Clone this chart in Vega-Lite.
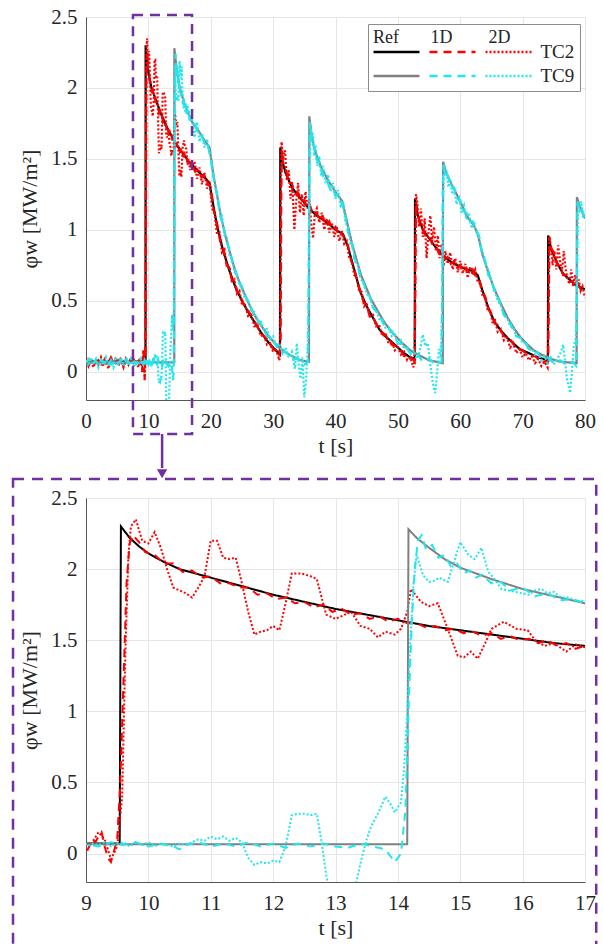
{
"$schema":"https://vega.github.io/schema/vega-lite/v6.json",
"padding":{"left":11,"top":5,"right":5,"bottom":0},
"background":"white",
"config":{"font":"Liberation Serif","view":{"stroke":"#d6d6d6","strokeWidth":1},
"style":{"guide-label":{"font":"Liberation Serif"},"guide-title":{"font":"Liberation Serif"}},
"axis":{"labelFont":"Liberation Serif","titleFont":"Liberation Serif"},
"legend":{"labelFont":"Liberation Serif","titleFont":"Liberation Serif"}},
"spacing":98,
"bounds":"flush",
"resolve":{"scale":{"x":"independent","y":"independent","color":"independent","strokeDash":"independent"},"legend":{"color":"independent","strokeDash":"independent"}},
"datasets":{"d":[
{"s":"R2","t":0,"v":0.07},{"s":"R2","t":9.54,"v":0.07},{"s":"R2","t":9.56,"v":2.3},{"s":"R2","t":9.7,"v":2.22},{"s":"R2","t":9.85,"v":2.16},{"s":"R2","t":10,"v":2.11},{"s":"R2","t":10.25,"v":2.05},{"s":"R2","t":10.5,"v":2.0},{"s":"R2","t":10.75,"v":1.97},{"s":"R2","t":11,"v":1.94},{"s":"R2","t":11.5,"v":1.88},{"s":"R2","t":12,"v":1.82},{"s":"R2","t":12.5,"v":1.77},{"s":"R2","t":13,"v":1.72},{"s":"R2","t":13.5,"v":1.68},{"s":"R2","t":14,"v":1.64},{"s":"R2","t":14.5,"v":1.6},{"s":"R2","t":15,"v":1.57},{"s":"R2","t":15.5,"v":1.54},{"s":"R2","t":16,"v":1.51},{"s":"R2","t":16.5,"v":1.48},{"s":"R2","t":17,"v":1.46},{"s":"R2","t":18,"v":1.41},{"s":"R2","t":19,"v":1.37},{"s":"R2","t":19.8,"v":1.33},{"s":"R2","t":20.3,"v":1.2},{"s":"R2","t":21,"v":1.03},{"s":"R2","t":22,"v":0.85},{"s":"R2","t":23,"v":0.71},{"s":"R2","t":24,"v":0.59},{"s":"R2","t":25,"v":0.5},{"s":"R2","t":26,"v":0.42},{"s":"R2","t":27,"v":0.35},{"s":"R2","t":28,"v":0.28},{"s":"R2","t":29,"v":0.22},{"s":"R2","t":30,"v":0.17},{"s":"R2","t":31.1,"v":0.12},{"s":"R2","t":31.15,"v":1.58},{"s":"R2","t":31.5,"v":1.48},{"s":"R2","t":32,"v":1.4},{"s":"R2","t":33,"v":1.3},{"s":"R2","t":34,"v":1.24},{"s":"R2","t":35,"v":1.19},{"s":"R2","t":36,"v":1.14},{"s":"R2","t":37,"v":1.1},{"s":"R2","t":38,"v":1.07},{"s":"R2","t":39,"v":1.04},{"s":"R2","t":40,"v":1.0},{"s":"R2","t":41.2,"v":0.97},{"s":"R2","t":42,"v":0.88},{"s":"R2","t":43,"v":0.72},{"s":"R2","t":44,"v":0.56},{"s":"R2","t":45,"v":0.46},{"s":"R2","t":46,"v":0.38},{"s":"R2","t":47,"v":0.3},{"s":"R2","t":48,"v":0.25},{"s":"R2","t":49,"v":0.21},{"s":"R2","t":50,"v":0.17},{"s":"R2","t":51,"v":0.13},{"s":"R2","t":52,"v":0.1},{"s":"R2","t":52.7,"v":0.09},{"s":"R2","t":52.75,"v":1.22},{"s":"R2","t":53.2,"v":1.1},{"s":"R2","t":54,"v":1.0},{"s":"R2","t":55,"v":0.94},{"s":"R2","t":56,"v":0.88},{"s":"R2","t":57,"v":0.83},{"s":"R2","t":58,"v":0.79},{"s":"R2","t":59,"v":0.76},{"s":"R2","t":60,"v":0.74},{"s":"R2","t":61,"v":0.72},{"s":"R2","t":62,"v":0.71},{"s":"R2","t":62.8,"v":0.68},{"s":"R2","t":63.5,"v":0.58},{"s":"R2","t":64.5,"v":0.45},{"s":"R2","t":65.5,"v":0.35},{"s":"R2","t":66.5,"v":0.29},{"s":"R2","t":67.5,"v":0.24},{"s":"R2","t":68.5,"v":0.2},{"s":"R2","t":69.5,"v":0.16},{"s":"R2","t":70.5,"v":0.14},{"s":"R2","t":71.5,"v":0.12},{"s":"R2","t":72.5,"v":0.1},{"s":"R2","t":74.05,"v":0.08},{"s":"R2","t":74.1,"v":0.96},{"s":"R2","t":74.6,"v":0.86},{"s":"R2","t":75.6,"v":0.76},{"s":"R2","t":76.5,"v":0.69},{"s":"R2","t":77.5,"v":0.65},{"s":"R2","t":78.5,"v":0.61},{"s":"R2","t":80,"v":0.58},
{"s":"A2","t":0,"v":0.08},{"s":"A2","t":0.5,"v":0.05},{"s":"A2","t":1,"v":0.09},{"s":"A2","t":1.5,"v":0.06},{"s":"A2","t":2,"v":0.08},{"s":"A2","t":2.5,"v":0.04},{"s":"A2","t":3,"v":0.09},{"s":"A2","t":3.5,"v":0.06},{"s":"A2","t":4,"v":0.1},{"s":"A2","t":4.5,"v":0.05},{"s":"A2","t":5,"v":0.07},{"s":"A2","t":5.5,"v":0.09},{"s":"A2","t":6,"v":0.04},{"s":"A2","t":6.5,"v":0.08},{"s":"A2","t":7,"v":0.06},{"s":"A2","t":7.5,"v":0.1},{"s":"A2","t":8,"v":0.05},{"s":"A2","t":8.5,"v":0.08},{"s":"A2","t":9,"v":0.0},{"s":"A2","t":9.05,"v":0.05},{"s":"A2","t":9.1,"v":0.1},{"s":"A2","t":9.15,"v":0.08},{"s":"A2","t":9.2,"v":0.12},{"s":"A2","t":9.25,"v":0.15},{"s":"A2","t":9.3,"v":0.05},{"s":"A2","t":9.35,"v":-0.03},{"s":"A2","t":9.4,"v":-0.06},{"s":"A2","t":9.45,"v":0.02},{"s":"A2","t":9.5,"v":0.1},{"s":"A2","t":9.55,"v":0.5},{"s":"A2","t":9.6,"v":1.2},{"s":"A2","t":9.65,"v":1.9},{"s":"A2","t":9.7,"v":2.18},{"s":"A2","t":9.75,"v":2.24},{"s":"A2","t":9.85,"v":2.19},{"s":"A2","t":9.95,"v":2.12},{"s":"A2","t":10.1,"v":2.1},{"s":"A2","t":10.25,"v":2.04},{"s":"A2","t":10.4,"v":2.04},{"s":"A2","t":10.55,"v":1.98},{"s":"A2","t":10.7,"v":1.99},{"s":"A2","t":10.85,"v":1.94},{"s":"A2","t":11,"v":1.95},{"s":"A2","t":11.15,"v":1.9},{"s":"A2","t":11.3,"v":1.9},{"s":"A2","t":11.45,"v":1.87},{"s":"A2","t":11.6,"v":1.87},{"s":"A2","t":11.75,"v":1.82},{"s":"A2","t":11.9,"v":1.83},{"s":"A2","t":12.05,"v":1.79},{"s":"A2","t":12.2,"v":1.8},{"s":"A2","t":12.35,"v":1.76},{"s":"A2","t":12.5,"v":1.77},{"s":"A2","t":12.65,"v":1.73},{"s":"A2","t":12.8,"v":1.75},{"s":"A2","t":12.95,"v":1.7},{"s":"A2","t":13.1,"v":1.72},{"s":"A2","t":13.25,"v":1.68},{"s":"A2","t":13.4,"v":1.69},{"s":"A2","t":13.55,"v":1.65},{"s":"A2","t":13.7,"v":1.67},{"s":"A2","t":13.85,"v":1.63},{"s":"A2","t":14,"v":1.65},{"s":"A2","t":14.15,"v":1.62},{"s":"A2","t":14.3,"v":1.62},{"s":"A2","t":14.45,"v":1.59},{"s":"A2","t":14.6,"v":1.6},{"s":"A2","t":14.75,"v":1.57},{"s":"A2","t":14.9,"v":1.58},{"s":"A2","t":15.05,"v":1.55},{"s":"A2","t":15.2,"v":1.56},{"s":"A2","t":15.35,"v":1.53},{"s":"A2","t":15.5,"v":1.55},{"s":"A2","t":15.65,"v":1.51},{"s":"A2","t":15.8,"v":1.53},{"s":"A2","t":15.95,"v":1.5},{"s":"A2","t":16.1,"v":1.51},{"s":"A2","t":16.25,"v":1.48},{"s":"A2","t":16.4,"v":1.5},{"s":"A2","t":16.55,"v":1.46},{"s":"A2","t":16.7,"v":1.48},{"s":"A2","t":16.85,"v":1.44},{"s":"A2","t":17,"v":1.46},{"s":"A2","t":17.5,"v":1.41},{"s":"A2","t":18,"v":1.43},{"s":"A2","t":18.5,"v":1.37},{"s":"A2","t":19,"v":1.39},{"s":"A2","t":19.5,"v":1.33},{"s":"A2","t":20,"v":1.3},{"s":"A2","t":20.5,"v":1.13},{"s":"A2","t":21,"v":1.05},{"s":"A2","t":21.5,"v":0.92},{"s":"A2","t":22,"v":0.87},{"s":"A2","t":22.5,"v":0.76},{"s":"A2","t":23,"v":0.73},{"s":"A2","t":23.5,"v":0.62},{"s":"A2","t":24,"v":0.61},{"s":"A2","t":24.5,"v":0.52},{"s":"A2","t":25,"v":0.51},{"s":"A2","t":25.5,"v":0.44},{"s":"A2","t":26,"v":0.43},{"s":"A2","t":27,"v":0.36},{"s":"A2","t":28,"v":0.27},{"s":"A2","t":29,"v":0.23},{"s":"A2","t":30,"v":0.16},{"s":"A2","t":31,"v":0.12},{"s":"A2","t":31.2,"v":0.2},{"s":"A2","t":31.3,"v":1.2},{"s":"A2","t":31.4,"v":1.56},{"s":"A2","t":31.6,"v":1.47},{"s":"A2","t":32,"v":1.43},{"s":"A2","t":32.5,"v":1.33},{"s":"A2","t":33,"v":1.33},{"s":"A2","t":33.5,"v":1.25},{"s":"A2","t":34,"v":1.26},{"s":"A2","t":34.5,"v":1.2},{"s":"A2","t":35,"v":1.21},{"s":"A2","t":35.5,"v":1.14},{"s":"A2","t":36,"v":1.16},{"s":"A2","t":36.5,"v":1.1},{"s":"A2","t":37,"v":1.12},{"s":"A2","t":37.5,"v":1.06},{"s":"A2","t":38,"v":1.09},{"s":"A2","t":38.5,"v":1.03},{"s":"A2","t":39,"v":1.06},{"s":"A2","t":39.5,"v":1.0},{"s":"A2","t":40,"v":1.02},{"s":"A2","t":40.5,"v":0.96},{"s":"A2","t":41,"v":0.98},{"s":"A2","t":41.5,"v":0.93},{"s":"A2","t":42,"v":0.89},{"s":"A2","t":42.5,"v":0.78},{"s":"A2","t":43,"v":0.73},{"s":"A2","t":43.5,"v":0.62},{"s":"A2","t":44,"v":0.57},{"s":"A2","t":44.5,"v":0.49},{"s":"A2","t":45,"v":0.47},{"s":"A2","t":45.5,"v":0.39},{"s":"A2","t":46,"v":0.39},{"s":"A2","t":47,"v":0.29},{"s":"A2","t":48,"v":0.26},{"s":"A2","t":49,"v":0.19},{"s":"A2","t":50,"v":0.18},{"s":"A2","t":51,"v":0.11},{"s":"A2","t":52,"v":0.11},{"s":"A2","t":52.7,"v":0.07},{"s":"A2","t":52.8,"v":0.6},{"s":"A2","t":52.9,"v":1.2},{"s":"A2","t":53.2,"v":1.12},{"s":"A2","t":53.6,"v":1.02},{"s":"A2","t":54,"v":1.01},{"s":"A2","t":54.5,"v":0.95},{"s":"A2","t":55,"v":0.96},{"s":"A2","t":55.5,"v":0.9},{"s":"A2","t":56,"v":0.9},{"s":"A2","t":56.5,"v":0.84},{"s":"A2","t":57,"v":0.85},{"s":"A2","t":57.5,"v":0.79},{"s":"A2","t":58,"v":0.81},{"s":"A2","t":58.5,"v":0.76},{"s":"A2","t":59,"v":0.78},{"s":"A2","t":59.5,"v":0.73},{"s":"A2","t":60,"v":0.75},{"s":"A2","t":60.5,"v":0.7},{"s":"A2","t":61,"v":0.73},{"s":"A2","t":61.5,"v":0.69},{"s":"A2","t":62,"v":0.72},{"s":"A2","t":62.5,"v":0.67},{"s":"A2","t":63,"v":0.66},{"s":"A2","t":63.5,"v":0.57},{"s":"A2","t":64,"v":0.53},{"s":"A2","t":64.5,"v":0.44},{"s":"A2","t":65,"v":0.41},{"s":"A2","t":65.5,"v":0.34},{"s":"A2","t":66,"v":0.33},{"s":"A2","t":67,"v":0.25},{"s":"A2","t":68,"v":0.23},{"s":"A2","t":69,"v":0.16},{"s":"A2","t":70,"v":0.15},{"s":"A2","t":71,"v":0.11},{"s":"A2","t":72,"v":0.11},{"s":"A2","t":73,"v":0.07},{"s":"A2","t":74.1,"v":0.07},{"s":"A2","t":74.2,"v":0.5},{"s":"A2","t":74.3,"v":0.95},{"s":"A2","t":74.6,"v":0.87},{"s":"A2","t":75,"v":0.84},{"s":"A2","t":75.5,"v":0.76},{"s":"A2","t":76,"v":0.74},{"s":"A2","t":76.5,"v":0.68},{"s":"A2","t":77,"v":0.68},{"s":"A2","t":77.5,"v":0.63},{"s":"A2","t":78,"v":0.64},{"s":"A2","t":78.5,"v":0.59},{"s":"A2","t":79,"v":0.61},{"s":"A2","t":79.5,"v":0.56},{"s":"A2","t":80,"v":0.58},
{"s":"B2","t":0,"v":0.1},{"s":"B2","t":0.4,"v":0.04},{"s":"B2","t":0.8,"v":0.08},{"s":"B2","t":1.2,"v":0.03},{"s":"B2","t":1.6,"v":0.09},{"s":"B2","t":2,"v":0.05},{"s":"B2","t":2.4,"v":0.1},{"s":"B2","t":2.8,"v":0.04},{"s":"B2","t":3.2,"v":0.07},{"s":"B2","t":3.6,"v":0.02},{"s":"B2","t":4,"v":0.09},{"s":"B2","t":4.4,"v":0.05},{"s":"B2","t":4.8,"v":0.1},{"s":"B2","t":5.2,"v":0.04},{"s":"B2","t":5.6,"v":0.08},{"s":"B2","t":6,"v":0.03},{"s":"B2","t":6.4,"v":0.09},{"s":"B2","t":6.8,"v":0.05},{"s":"B2","t":7.2,"v":0.1},{"s":"B2","t":7.6,"v":0.04},{"s":"B2","t":8,"v":0.08},{"s":"B2","t":8.4,"v":0.03},{"s":"B2","t":8.8,"v":0.09},{"s":"B2","t":9,"v":0.02},{"s":"B2","t":9.1,"v":0.08},{"s":"B2","t":9.2,"v":0.15},{"s":"B2","t":9.3,"v":0.1},{"s":"B2","t":9.4,"v":-0.04},{"s":"B2","t":9.5,"v":0.05},{"s":"B2","t":9.58,"v":0.4},{"s":"B2","t":9.63,"v":1.4},{"s":"B2","t":9.68,"v":2.1},{"s":"B2","t":9.72,"v":2.3},{"s":"B2","t":9.8,"v":2.35},{"s":"B2","t":9.9,"v":2.2},{"s":"B2","t":10.0,"v":2.18},{"s":"B2","t":10.1,"v":2.26},{"s":"B2","t":10.2,"v":2.15},{"s":"B2","t":10.3,"v":2.0},{"s":"B2","t":10.4,"v":1.87},{"s":"B2","t":10.5,"v":1.85},{"s":"B2","t":10.6,"v":1.83},{"s":"B2","t":10.7,"v":1.8},{"s":"B2","t":10.8,"v":1.87},{"s":"B2","t":10.9,"v":1.95},{"s":"B2","t":11.0,"v":2.2},{"s":"B2","t":11.1,"v":2.2},{"s":"B2","t":11.2,"v":2.08},{"s":"B2","t":11.3,"v":2.07},{"s":"B2","t":11.4,"v":2.08},{"s":"B2","t":11.5,"v":1.9},{"s":"B2","t":11.6,"v":1.7},{"s":"B2","t":11.7,"v":1.54},{"s":"B2","t":11.8,"v":1.56},{"s":"B2","t":11.9,"v":1.57},{"s":"B2","t":12.0,"v":1.6},{"s":"B2","t":12.1,"v":1.57},{"s":"B2","t":12.2,"v":1.76},{"s":"B2","t":12.3,"v":1.97},{"s":"B2","t":12.45,"v":1.97},{"s":"B2","t":12.6,"v":1.95},{"s":"B2","t":12.7,"v":1.93},{"s":"B2","t":12.85,"v":1.68},{"s":"B2","t":13.0,"v":1.65},{"s":"B2","t":13.1,"v":1.67},{"s":"B2","t":13.25,"v":1.7},{"s":"B2","t":13.4,"v":1.6},{"s":"B2","t":13.55,"v":1.58},{"s":"B2","t":13.68,"v":1.52},{"s":"B2","t":13.8,"v":1.56},{"s":"B2","t":13.95,"v":1.54},{"s":"B2","t":14.05,"v":1.58},{"s":"B2","t":14.15,"v":1.7},{"s":"B2","t":14.21,"v":1.86},{"s":"B2","t":14.37,"v":1.77},{"s":"B2","t":14.5,"v":1.74},{"s":"B2","t":14.64,"v":1.76},{"s":"B2","t":14.8,"v":1.58},{"s":"B2","t":14.96,"v":1.39},{"s":"B2","t":15.06,"v":1.38},{"s":"B2","t":15.17,"v":1.42},{"s":"B2","t":15.28,"v":1.37},{"s":"B2","t":15.4,"v":1.48},{"s":"B2","t":15.5,"v":1.58},{"s":"B2","t":15.7,"v":1.63},{"s":"B2","t":15.9,"v":1.58},{"s":"B2","t":16.08,"v":1.57},{"s":"B2","t":16.2,"v":1.5},{"s":"B2","t":16.35,"v":1.46},{"s":"B2","t":16.5,"v":1.48},{"s":"B2","t":16.6,"v":1.45},{"s":"B2","t":16.7,"v":1.42},{"s":"B2","t":16.85,"v":1.47},{"s":"B2","t":17.0,"v":1.45},{"s":"B2","t":17.4,"v":1.48},{"s":"B2","t":17.8,"v":1.36},{"s":"B2","t":18.2,"v":1.44},{"s":"B2","t":18.6,"v":1.32},{"s":"B2","t":19,"v":1.4},{"s":"B2","t":19.4,"v":1.29},{"s":"B2","t":19.8,"v":1.34},{"s":"B2","t":20.2,"v":1.15},{"s":"B2","t":20.6,"v":1.12},{"s":"B2","t":21,"v":0.97},{"s":"B2","t":21.4,"v":0.98},{"s":"B2","t":21.8,"v":0.84},{"s":"B2","t":22.2,"v":0.86},{"s":"B2","t":22.6,"v":0.73},{"s":"B2","t":23,"v":0.74},{"s":"B2","t":23.4,"v":0.63},{"s":"B2","t":23.8,"v":0.65},{"s":"B2","t":24.2,"v":0.55},{"s":"B2","t":24.6,"v":0.57},{"s":"B2","t":25,"v":0.47},{"s":"B2","t":25.5,"v":0.47},{"s":"B2","t":26,"v":0.39},{"s":"B2","t":26.5,"v":0.4},{"s":"B2","t":27,"v":0.32},{"s":"B2","t":27.5,"v":0.33},{"s":"B2","t":28,"v":0.25},{"s":"B2","t":28.5,"v":0.26},{"s":"B2","t":29,"v":0.19},{"s":"B2","t":29.5,"v":0.2},{"s":"B2","t":30,"v":0.14},{"s":"B2","t":30.5,"v":0.15},{"s":"B2","t":31,"v":0.08},{"s":"B2","t":31.15,"v":0.3},{"s":"B2","t":31.25,"v":1.3},{"s":"B2","t":31.35,"v":1.62},{"s":"B2","t":31.6,"v":1.5},{"s":"B2","t":31.9,"v":1.56},{"s":"B2","t":32.2,"v":1.35},{"s":"B2","t":32.5,"v":1.42},{"s":"B2","t":32.8,"v":1.22},{"s":"B2","t":33.1,"v":1.3},{"s":"B2","t":33.4,"v":1.0},{"s":"B2","t":33.7,"v":1.2},{"s":"B2","t":34,"v":1.33},{"s":"B2","t":34.3,"v":1.12},{"s":"B2","t":34.6,"v":1.25},{"s":"B2","t":34.9,"v":1.1},{"s":"B2","t":35.2,"v":1.27},{"s":"B2","t":35.5,"v":1.15},{"s":"B2","t":35.8,"v":1.22},{"s":"B2","t":36.1,"v":1.05},{"s":"B2","t":36.4,"v":0.94},{"s":"B2","t":36.7,"v":1.12},{"s":"B2","t":37,"v":1.15},{"s":"B2","t":37.4,"v":1.05},{"s":"B2","t":37.8,"v":1.12},{"s":"B2","t":38.2,"v":1.0},{"s":"B2","t":38.6,"v":1.08},{"s":"B2","t":39,"v":0.98},{"s":"B2","t":39.4,"v":1.05},{"s":"B2","t":39.8,"v":0.95},{"s":"B2","t":40.2,"v":1.02},{"s":"B2","t":40.6,"v":0.92},{"s":"B2","t":41,"v":0.99},{"s":"B2","t":41.4,"v":0.9},{"s":"B2","t":41.8,"v":0.92},{"s":"B2","t":42.2,"v":0.8},{"s":"B2","t":42.6,"v":0.78},{"s":"B2","t":43,"v":0.68},{"s":"B2","t":43.4,"v":0.67},{"s":"B2","t":43.8,"v":0.56},{"s":"B2","t":44.2,"v":0.56},{"s":"B2","t":44.6,"v":0.46},{"s":"B2","t":45,"v":0.48},{"s":"B2","t":45.5,"v":0.39},{"s":"B2","t":46,"v":0.4},{"s":"B2","t":46.5,"v":0.32},{"s":"B2","t":47,"v":0.33},{"s":"B2","t":47.5,"v":0.25},{"s":"B2","t":48,"v":0.27},{"s":"B2","t":48.5,"v":0.2},{"s":"B2","t":49,"v":0.22},{"s":"B2","t":49.5,"v":0.15},{"s":"B2","t":50,"v":0.17},{"s":"B2","t":50.5,"v":0.12},{"s":"B2","t":51,"v":0.14},{"s":"B2","t":51.5,"v":0.08},{"s":"B2","t":52,"v":0.1},{"s":"B2","t":52.5,"v":0.03},{"s":"B2","t":52.7,"v":0.08},{"s":"B2","t":52.8,"v":0.8},{"s":"B2","t":52.9,"v":1.25},{"s":"B2","t":53.1,"v":1.2},{"s":"B2","t":53.4,"v":1.02},{"s":"B2","t":53.7,"v":1.15},{"s":"B2","t":54,"v":0.95},{"s":"B2","t":54.3,"v":1.08},{"s":"B2","t":54.6,"v":0.8},{"s":"B2","t":54.9,"v":0.98},{"s":"B2","t":55.2,"v":1.1},{"s":"B2","t":55.5,"v":0.92},{"s":"B2","t":55.8,"v":1.02},{"s":"B2","t":56.1,"v":0.85},{"s":"B2","t":56.4,"v":0.96},{"s":"B2","t":56.7,"v":0.8},{"s":"B2","t":57,"v":0.9},{"s":"B2","t":57.3,"v":0.74},{"s":"B2","t":57.6,"v":0.85},{"s":"B2","t":58,"v":0.76},{"s":"B2","t":58.4,"v":0.84},{"s":"B2","t":58.8,"v":0.72},{"s":"B2","t":59.2,"v":0.8},{"s":"B2","t":59.6,"v":0.7},{"s":"B2","t":60,"v":0.78},{"s":"B2","t":60.4,"v":0.69},{"s":"B2","t":60.8,"v":0.76},{"s":"B2","t":61.2,"v":0.66},{"s":"B2","t":61.6,"v":0.74},{"s":"B2","t":62,"v":0.68},{"s":"B2","t":62.4,"v":0.72},{"s":"B2","t":62.8,"v":0.63},{"s":"B2","t":63.2,"v":0.62},{"s":"B2","t":63.6,"v":0.53},{"s":"B2","t":64,"v":0.52},{"s":"B2","t":64.4,"v":0.43},{"s":"B2","t":64.8,"v":0.43},{"s":"B2","t":65.2,"v":0.34},{"s":"B2","t":65.6,"v":0.36},{"s":"B2","t":66,"v":0.28},{"s":"B2","t":66.5,"v":0.3},{"s":"B2","t":67,"v":0.22},{"s":"B2","t":67.5,"v":0.24},{"s":"B2","t":68,"v":0.17},{"s":"B2","t":68.5,"v":0.2},{"s":"B2","t":69,"v":0.13},{"s":"B2","t":69.5,"v":0.16},{"s":"B2","t":70,"v":0.1},{"s":"B2","t":70.5,"v":0.13},{"s":"B2","t":71,"v":0.08},{"s":"B2","t":71.5,"v":0.11},{"s":"B2","t":72,"v":0.06},{"s":"B2","t":72.5,"v":0.09},{"s":"B2","t":73,"v":0.04},{"s":"B2","t":73.5,"v":0.07},{"s":"B2","t":74,"v":0.03},{"s":"B2","t":74.15,"v":0.4},{"s":"B2","t":74.25,"v":0.95},{"s":"B2","t":74.5,"v":0.9},{"s":"B2","t":74.8,"v":0.75},{"s":"B2","t":75.1,"v":0.85},{"s":"B2","t":75.4,"v":0.72},{"s":"B2","t":75.7,"v":0.89},{"s":"B2","t":76,"v":0.78},{"s":"B2","t":76.3,"v":0.7},{"s":"B2","t":76.6,"v":0.85},{"s":"B2","t":76.9,"v":0.72},{"s":"B2","t":77.2,"v":0.65},{"s":"B2","t":77.5,"v":0.62},{"s":"B2","t":77.8,"v":0.72},{"s":"B2","t":78.1,"v":0.6},{"s":"B2","t":78.4,"v":0.68},{"s":"B2","t":78.7,"v":0.6},{"s":"B2","t":79,"v":0.65},{"s":"B2","t":79.3,"v":0.57},{"s":"B2","t":79.6,"v":0.6},{"s":"B2","t":80,"v":0.52},
{"s":"R9","t":0,"v":0.065},{"s":"R9","t":14.15,"v":0.065},{"s":"R9","t":14.17,"v":2.28},{"s":"R9","t":14.3,"v":2.22},{"s":"R9","t":14.5,"v":2.15},{"s":"R9","t":14.75,"v":2.07},{"s":"R9","t":15,"v":2.01},{"s":"R9","t":15.25,"v":1.97},{"s":"R9","t":15.5,"v":1.93},{"s":"R9","t":16,"v":1.86},{"s":"R9","t":16.5,"v":1.81},{"s":"R9","t":17,"v":1.76},{"s":"R9","t":18,"v":1.7},{"s":"R9","t":19,"v":1.63},{"s":"R9","t":19.8,"v":1.58},{"s":"R9","t":20.5,"v":1.37},{"s":"R9","t":21.6,"v":1.1},{"s":"R9","t":22.4,"v":0.95},{"s":"R9","t":23.2,"v":0.82},{"s":"R9","t":24,"v":0.7},{"s":"R9","t":24.8,"v":0.61},{"s":"R9","t":26,"v":0.49},{"s":"R9","t":27,"v":0.4},{"s":"R9","t":28,"v":0.33},{"s":"R9","t":29.1,"v":0.26},{"s":"R9","t":30.5,"v":0.19},{"s":"R9","t":31.8,"v":0.14},{"s":"R9","t":33,"v":0.11},{"s":"R9","t":34.4,"v":0.08},{"s":"R9","t":35.75,"v":0.07},{"s":"R9","t":35.8,"v":1.8},{"s":"R9","t":36.2,"v":1.66},{"s":"R9","t":36.6,"v":1.57},{"s":"R9","t":37.7,"v":1.44},{"s":"R9","t":38.8,"v":1.35},{"s":"R9","t":39.8,"v":1.28},{"s":"R9","t":41.1,"v":1.2},{"s":"R9","t":42.5,"v":0.93},{"s":"R9","t":43.3,"v":0.8},{"s":"R9","t":44.1,"v":0.68},{"s":"R9","t":45.7,"v":0.51},{"s":"R9","t":47,"v":0.41},{"s":"R9","t":47.8,"v":0.35},{"s":"R9","t":49,"v":0.28},{"s":"R9","t":50.5,"v":0.21},{"s":"R9","t":52,"v":0.15},{"s":"R9","t":53.2,"v":0.12},{"s":"R9","t":55,"v":0.08},{"s":"R9","t":57.2,"v":0.06},{"s":"R9","t":57.25,"v":1.48},{"s":"R9","t":57.7,"v":1.41},{"s":"R9","t":58.5,"v":1.33},{"s":"R9","t":59.2,"v":1.27},{"s":"R9","t":60,"v":1.2},{"s":"R9","t":61,"v":1.1},{"s":"R9","t":62.2,"v":1.03},{"s":"R9","t":62.8,"v":0.97},{"s":"R9","t":63.6,"v":0.82},{"s":"R9","t":64.5,"v":0.7},{"s":"R9","t":65.4,"v":0.59},{"s":"R9","t":66.5,"v":0.48},{"s":"R9","t":67.6,"v":0.38},{"s":"R9","t":68.7,"v":0.3},{"s":"R9","t":69.7,"v":0.24},{"s":"R9","t":70.8,"v":0.19},{"s":"R9","t":71.8,"v":0.15},{"s":"R9","t":73,"v":0.12},{"s":"R9","t":74.5,"v":0.09},{"s":"R9","t":76,"v":0.07},{"s":"R9","t":78.65,"v":0.06},{"s":"R9","t":78.7,"v":1.23},{"s":"R9","t":79.2,"v":1.16},{"s":"R9","t":80,"v":1.08},
{"s":"A9","t":0,"v":0.06},{"s":"A9","t":0.5,"v":0.09},{"s":"A9","t":1,"v":0.05},{"s":"A9","t":1.5,"v":0.08},{"s":"A9","t":2,"v":0.04},{"s":"A9","t":2.5,"v":0.08},{"s":"A9","t":3,"v":0.06},{"s":"A9","t":3.5,"v":0.09},{"s":"A9","t":4,"v":0.05},{"s":"A9","t":4.5,"v":0.07},{"s":"A9","t":5,"v":0.04},{"s":"A9","t":5.5,"v":0.08},{"s":"A9","t":6,"v":0.06},{"s":"A9","t":6.5,"v":0.09},{"s":"A9","t":7,"v":0.05},{"s":"A9","t":7.5,"v":0.08},{"s":"A9","t":8,"v":0.05},{"s":"A9","t":8.5,"v":0.07},{"s":"A9","t":9,"v":0.07},{"s":"A9","t":9.2,"v":0.05},{"s":"A9","t":9.4,"v":0.08},{"s":"A9","t":9.6,"v":0.06},{"s":"A9","t":9.8,"v":0.08},{"s":"A9","t":10,"v":0.05},{"s":"A9","t":10.2,"v":0.07},{"s":"A9","t":10.4,"v":0.05},{"s":"A9","t":10.5,"v":0.03},{"s":"A9","t":10.6,"v":0.06},{"s":"A9","t":10.8,"v":0.08},{"s":"A9","t":11,"v":0.05},{"s":"A9","t":11.2,"v":0.07},{"s":"A9","t":11.4,"v":0.05},{"s":"A9","t":11.6,"v":0.08},{"s":"A9","t":11.8,"v":0.05},{"s":"A9","t":12,"v":0.07},{"s":"A9","t":12.2,"v":0.04},{"s":"A9","t":12.4,"v":0.07},{"s":"A9","t":12.6,"v":0.05},{"s":"A9","t":12.8,"v":0.07},{"s":"A9","t":13,"v":0.05},{"s":"A9","t":13.2,"v":0.04},{"s":"A9","t":13.4,"v":0.07},{"s":"A9","t":13.6,"v":0.05},{"s":"A9","t":13.8,"v":0.03},{"s":"A9","t":13.95,"v":-0.06},{"s":"A9","t":14.05,"v":0.0},{"s":"A9","t":14.12,"v":0.3},{"s":"A9","t":14.17,"v":1.0},{"s":"A9","t":14.22,"v":1.6},{"s":"A9","t":14.27,"v":2.0},{"s":"A9","t":14.32,"v":2.2},{"s":"A9","t":14.38,"v":2.24},{"s":"A9","t":14.45,"v":2.14},{"s":"A9","t":14.55,"v":2.17},{"s":"A9","t":14.65,"v":2.08},{"s":"A9","t":14.75,"v":2.1},{"s":"A9","t":14.85,"v":2.02},{"s":"A9","t":14.95,"v":2.04},{"s":"A9","t":15.05,"v":1.97},{"s":"A9","t":15.15,"v":1.99},{"s":"A9","t":15.25,"v":1.94},{"s":"A9","t":15.35,"v":1.96},{"s":"A9","t":15.5,"v":1.9},{"s":"A9","t":15.65,"v":1.91},{"s":"A9","t":15.8,"v":1.85},{"s":"A9","t":16,"v":1.87},{"s":"A9","t":16.2,"v":1.81},{"s":"A9","t":16.4,"v":1.83},{"s":"A9","t":16.6,"v":1.78},{"s":"A9","t":16.8,"v":1.79},{"s":"A9","t":17,"v":1.76},{"s":"A9","t":17.5,"v":1.74},{"s":"A9","t":18,"v":1.68},{"s":"A9","t":18.5,"v":1.67},{"s":"A9","t":19,"v":1.61},{"s":"A9","t":19.5,"v":1.6},{"s":"A9","t":20,"v":1.5},{"s":"A9","t":20.5,"v":1.35},{"s":"A9","t":21,"v":1.25},{"s":"A9","t":21.5,"v":1.1},{"s":"A9","t":22,"v":1.03},{"s":"A9","t":22.5,"v":0.92},{"s":"A9","t":23,"v":0.86},{"s":"A9","t":23.5,"v":0.76},{"s":"A9","t":24,"v":0.71},{"s":"A9","t":24.5,"v":0.63},{"s":"A9","t":25,"v":0.6},{"s":"A9","t":25.5,"v":0.53},{"s":"A9","t":26,"v":0.5},{"s":"A9","t":27,"v":0.39},{"s":"A9","t":28,"v":0.34},{"s":"A9","t":29,"v":0.25},{"s":"A9","t":30,"v":0.22},{"s":"A9","t":31,"v":0.14},{"s":"A9","t":32,"v":0.14},{"s":"A9","t":33,"v":0.09},{"s":"A9","t":34,"v":0.09},{"s":"A9","t":35,"v":0.05},{"s":"A9","t":35.6,"v":0.07},{"s":"A9","t":35.7,"v":0.6},{"s":"A9","t":35.8,"v":1.5},{"s":"A9","t":35.9,"v":1.76},{"s":"A9","t":36.2,"v":1.64},{"s":"A9","t":36.6,"v":1.58},{"s":"A9","t":37,"v":1.49},{"s":"A9","t":37.5,"v":1.47},{"s":"A9","t":38,"v":1.38},{"s":"A9","t":38.5,"v":1.37},{"s":"A9","t":39,"v":1.3},{"s":"A9","t":39.5,"v":1.3},{"s":"A9","t":40,"v":1.24},{"s":"A9","t":40.5,"v":1.24},{"s":"A9","t":41,"v":1.18},{"s":"A9","t":41.5,"v":1.12},{"s":"A9","t":42,"v":0.98},{"s":"A9","t":42.5,"v":0.94},{"s":"A9","t":43,"v":0.8},{"s":"A9","t":43.5,"v":0.76},{"s":"A9","t":44,"v":0.66},{"s":"A9","t":44.5,"v":0.63},{"s":"A9","t":45,"v":0.55},{"s":"A9","t":45.5,"v":0.53},{"s":"A9","t":46,"v":0.45},{"s":"A9","t":47,"v":0.4},{"s":"A9","t":48,"v":0.31},{"s":"A9","t":49,"v":0.29},{"s":"A9","t":50,"v":0.2},{"s":"A9","t":51,"v":0.19},{"s":"A9","t":52,"v":0.13},{"s":"A9","t":53,"v":0.13},{"s":"A9","t":54,"v":0.07},{"s":"A9","t":55,"v":0.09},{"s":"A9","t":56,"v":0.05},{"s":"A9","t":57,"v":0.07},{"s":"A9","t":57.1,"v":0.5},{"s":"A9","t":57.2,"v":1.3},{"s":"A9","t":57.3,"v":1.46},{"s":"A9","t":57.7,"v":1.4},{"s":"A9","t":58,"v":1.38},{"s":"A9","t":58.5,"v":1.31},{"s":"A9","t":59,"v":1.3},{"s":"A9","t":59.5,"v":1.22},{"s":"A9","t":60,"v":1.21},{"s":"A9","t":60.5,"v":1.13},{"s":"A9","t":61,"v":1.12},{"s":"A9","t":61.5,"v":1.06},{"s":"A9","t":62,"v":1.06},{"s":"A9","t":62.5,"v":1.0},{"s":"A9","t":63,"v":0.96},{"s":"A9","t":63.5,"v":0.83},{"s":"A9","t":64,"v":0.78},{"s":"A9","t":64.5,"v":0.68},{"s":"A9","t":65,"v":0.65},{"s":"A9","t":65.5,"v":0.56},{"s":"A9","t":66,"v":0.53},{"s":"A9","t":67,"v":0.4},{"s":"A9","t":68,"v":0.34},{"s":"A9","t":69,"v":0.25},{"s":"A9","t":70,"v":0.23},{"s":"A9","t":71,"v":0.16},{"s":"A9","t":72,"v":0.15},{"s":"A9","t":73,"v":0.1},{"s":"A9","t":74,"v":0.1},{"s":"A9","t":75,"v":0.06},{"s":"A9","t":76,"v":0.08},{"s":"A9","t":77,"v":0.05},{"s":"A9","t":78,"v":0.07},{"s":"A9","t":78.6,"v":0.04},{"s":"A9","t":78.7,"v":0.6},{"s":"A9","t":78.8,"v":1.2},{"s":"A9","t":79.1,"v":1.15},{"s":"A9","t":79.5,"v":1.15},{"s":"A9","t":80,"v":1.06},
{"s":"B9","t":0,"v":0.08},{"s":"B9","t":0.4,"v":0.04},{"s":"B9","t":0.8,"v":0.1},{"s":"B9","t":1.2,"v":0.05},{"s":"B9","t":1.6,"v":0.09},{"s":"B9","t":2,"v":0.03},{"s":"B9","t":2.4,"v":0.08},{"s":"B9","t":2.8,"v":0.05},{"s":"B9","t":3.2,"v":0.1},{"s":"B9","t":3.6,"v":0.04},{"s":"B9","t":4,"v":0.08},{"s":"B9","t":4.4,"v":0.03},{"s":"B9","t":4.8,"v":0.09},{"s":"B9","t":5.2,"v":0.05},{"s":"B9","t":5.6,"v":0.1},{"s":"B9","t":6,"v":0.04},{"s":"B9","t":6.4,"v":0.08},{"s":"B9","t":6.8,"v":0.05},{"s":"B9","t":7.2,"v":0.09},{"s":"B9","t":7.6,"v":0.04},{"s":"B9","t":8,"v":0.08},{"s":"B9","t":8.4,"v":0.05},{"s":"B9","t":8.8,"v":0.09},{"s":"B9","t":9,"v":0.05},{"s":"B9","t":9.1,"v":0.07},{"s":"B9","t":9.2,"v":0.06},{"s":"B9","t":9.3,"v":0.08},{"s":"B9","t":9.4,"v":0.05},{"s":"B9","t":9.5,"v":0.07},{"s":"B9","t":9.6,"v":0.08},{"s":"B9","t":9.7,"v":0.05},{"s":"B9","t":9.8,"v":0.08},{"s":"B9","t":9.9,"v":0.06},{"s":"B9","t":10,"v":0.08},{"s":"B9","t":10.1,"v":0.05},{"s":"B9","t":10.2,"v":0.07},{"s":"B9","t":10.3,"v":0.06},{"s":"B9","t":10.4,"v":0.05},{"s":"B9","t":10.5,"v":0.07},{"s":"B9","t":10.6,"v":0.06},{"s":"B9","t":10.7,"v":0.08},{"s":"B9","t":10.8,"v":0.1},{"s":"B9","t":10.9,"v":0.09},{"s":"B9","t":11.0,"v":0.12},{"s":"B9","t":11.1,"v":0.1},{"s":"B9","t":11.2,"v":0.12},{"s":"B9","t":11.3,"v":0.09},{"s":"B9","t":11.4,"v":0.11},{"s":"B9","t":11.5,"v":0.08},{"s":"B9","t":11.6,"v":-0.03},{"s":"B9","t":11.7,"v":-0.08},{"s":"B9","t":11.8,"v":-0.06},{"s":"B9","t":11.9,"v":-0.07},{"s":"B9","t":12.0,"v":-0.05},{"s":"B9","t":12.1,"v":-0.06},{"s":"B9","t":12.2,"v":0.05},{"s":"B9","t":12.3,"v":0.27},{"s":"B9","t":12.4,"v":0.28},{"s":"B9","t":12.5,"v":0.28},{"s":"B9","t":12.6,"v":0.27},{"s":"B9","t":12.7,"v":0.28},{"s":"B9","t":12.77,"v":0.1},{"s":"B9","t":12.85,"v":-0.15},{"s":"B9","t":12.9,"v":-0.25},{"s":"B9","t":13.0,"v":-0.28},{"s":"B9","t":13.1,"v":-0.25},{"s":"B9","t":13.2,"v":-0.22},{"s":"B9","t":13.3,"v":-0.27},{"s":"B9","t":13.41,"v":-0.05},{"s":"B9","t":13.5,"v":0.1},{"s":"B9","t":13.57,"v":0.19},{"s":"B9","t":13.7,"v":0.3},{"s":"B9","t":13.8,"v":0.4},{"s":"B9","t":13.88,"v":0.35},{"s":"B9","t":13.95,"v":0.29},{"s":"B9","t":14.05,"v":0.36},{"s":"B9","t":14.1,"v":0.6},{"s":"B9","t":14.15,"v":1.0},{"s":"B9","t":14.2,"v":1.5},{"s":"B9","t":14.25,"v":1.9},{"s":"B9","t":14.3,"v":2.1},{"s":"B9","t":14.4,"v":1.96},{"s":"B9","t":14.5,"v":1.91},{"s":"B9","t":14.6,"v":1.92},{"s":"B9","t":14.66,"v":1.94},{"s":"B9","t":14.8,"v":1.91},{"s":"B9","t":14.9,"v":2.05},{"s":"B9","t":15.0,"v":2.19},{"s":"B9","t":15.13,"v":2.1},{"s":"B9","t":15.23,"v":2.07},{"s":"B9","t":15.34,"v":2.15},{"s":"B9","t":15.45,"v":1.98},{"s":"B9","t":15.55,"v":1.93},{"s":"B9","t":15.66,"v":1.86},{"s":"B9","t":15.78,"v":1.85},{"s":"B9","t":15.88,"v":1.84},{"s":"B9","t":16.0,"v":1.83},{"s":"B9","t":16.1,"v":1.82},{"s":"B9","t":16.2,"v":1.85},{"s":"B9","t":16.3,"v":1.86},{"s":"B9","t":16.4,"v":1.83},{"s":"B9","t":16.5,"v":1.84},{"s":"B9","t":16.62,"v":1.8},{"s":"B9","t":16.74,"v":1.8},{"s":"B9","t":16.86,"v":1.77},{"s":"B9","t":17.0,"v":1.78},{"s":"B9","t":17.4,"v":1.65},{"s":"B9","t":17.8,"v":1.76},{"s":"B9","t":18.2,"v":1.62},{"s":"B9","t":18.6,"v":1.68},{"s":"B9","t":19,"v":1.58},{"s":"B9","t":19.4,"v":1.64},{"s":"B9","t":19.8,"v":1.55},{"s":"B9","t":20.2,"v":1.45},{"s":"B9","t":20.6,"v":1.32},{"s":"B9","t":21,"v":1.27},{"s":"B9","t":21.4,"v":1.14},{"s":"B9","t":21.8,"v":1.1},{"s":"B9","t":22.2,"v":0.96},{"s":"B9","t":22.6,"v":0.94},{"s":"B9","t":23,"v":0.82},{"s":"B9","t":23.4,"v":0.8},{"s":"B9","t":23.8,"v":0.7},{"s":"B9","t":24.2,"v":0.69},{"s":"B9","t":24.6,"v":0.6},{"s":"B9","t":25,"v":0.6},{"s":"B9","t":25.5,"v":0.51},{"s":"B9","t":26,"v":0.5},{"s":"B9","t":26.5,"v":0.42},{"s":"B9","t":27,"v":0.42},{"s":"B9","t":27.5,"v":0.35},{"s":"B9","t":28,"v":0.36},{"s":"B9","t":28.5,"v":0.29},{"s":"B9","t":29,"v":0.3},{"s":"B9","t":29.5,"v":0.23},{"s":"B9","t":30,"v":0.25},{"s":"B9","t":30.5,"v":0.18},{"s":"B9","t":31,"v":0.2},{"s":"B9","t":31.5,"v":0.13},{"s":"B9","t":32,"v":0.17},{"s":"B9","t":32.5,"v":0.1},{"s":"B9","t":33,"v":0.14},{"s":"B9","t":33.5,"v":0.02},{"s":"B9","t":33.8,"v":0.2},{"s":"B9","t":34.1,"v":0.05},{"s":"B9","t":34.4,"v":-0.05},{"s":"B9","t":34.7,"v":0.1},{"s":"B9","t":35,"v":-0.18},{"s":"B9","t":35.3,"v":-0.05},{"s":"B9","t":35.55,"v":0.2},{"s":"B9","t":35.7,"v":0.6},{"s":"B9","t":35.85,"v":1.4},{"s":"B9","t":36,"v":1.72},{"s":"B9","t":36.2,"v":1.62},{"s":"B9","t":36.4,"v":1.68},{"s":"B9","t":36.6,"v":1.52},{"s":"B9","t":36.8,"v":1.6},{"s":"B9","t":37.1,"v":1.45},{"s":"B9","t":37.4,"v":1.52},{"s":"B9","t":37.7,"v":1.38},{"s":"B9","t":38,"v":1.45},{"s":"B9","t":38.4,"v":1.33},{"s":"B9","t":38.8,"v":1.39},{"s":"B9","t":39.2,"v":1.27},{"s":"B9","t":39.6,"v":1.33},{"s":"B9","t":40,"v":1.22},{"s":"B9","t":40.4,"v":1.28},{"s":"B9","t":40.8,"v":1.17},{"s":"B9","t":41.2,"v":1.2},{"s":"B9","t":41.6,"v":1.05},{"s":"B9","t":42,"v":1.02},{"s":"B9","t":42.4,"v":0.9},{"s":"B9","t":42.8,"v":0.88},{"s":"B9","t":43.2,"v":0.77},{"s":"B9","t":43.6,"v":0.76},{"s":"B9","t":44,"v":0.66},{"s":"B9","t":44.5,"v":0.62},{"s":"B9","t":45,"v":0.55},{"s":"B9","t":45.5,"v":0.52},{"s":"B9","t":46,"v":0.45},{"s":"B9","t":46.5,"v":0.44},{"s":"B9","t":47,"v":0.37},{"s":"B9","t":47.5,"v":0.37},{"s":"B9","t":48,"v":0.31},{"s":"B9","t":48.5,"v":0.31},{"s":"B9","t":49,"v":0.25},{"s":"B9","t":49.5,"v":0.26},{"s":"B9","t":50,"v":0.2},{"s":"B9","t":50.5,"v":0.22},{"s":"B9","t":51,"v":0.16},{"s":"B9","t":51.5,"v":0.18},{"s":"B9","t":52,"v":0.12},{"s":"B9","t":52.5,"v":0.15},{"s":"B9","t":53,"v":0.09},{"s":"B9","t":53.5,"v":0.14},{"s":"B9","t":54,"v":0.26},{"s":"B9","t":54.4,"v":0.18},{"s":"B9","t":54.8,"v":0.2},{"s":"B9","t":55.2,"v":0.05},{"s":"B9","t":55.6,"v":-0.08},{"s":"B9","t":56,"v":-0.15},{"s":"B9","t":56.3,"v":0.0},{"s":"B9","t":56.6,"v":0.16},{"s":"B9","t":56.9,"v":0.1},{"s":"B9","t":57.1,"v":0.5},{"s":"B9","t":57.25,"v":1.2},{"s":"B9","t":57.4,"v":1.45},{"s":"B9","t":57.6,"v":1.38},{"s":"B9","t":57.8,"v":1.42},{"s":"B9","t":58.1,"v":1.3},{"s":"B9","t":58.4,"v":1.36},{"s":"B9","t":58.7,"v":1.25},{"s":"B9","t":59,"v":1.3},{"s":"B9","t":59.4,"v":1.18},{"s":"B9","t":59.8,"v":1.24},{"s":"B9","t":60.2,"v":1.12},{"s":"B9","t":60.6,"v":1.17},{"s":"B9","t":61,"v":1.07},{"s":"B9","t":61.4,"v":1.12},{"s":"B9","t":61.8,"v":1.01},{"s":"B9","t":62.2,"v":1.06},{"s":"B9","t":62.6,"v":0.97},{"s":"B9","t":63,"v":0.96},{"s":"B9","t":63.4,"v":0.85},{"s":"B9","t":63.8,"v":0.82},{"s":"B9","t":64.2,"v":0.74},{"s":"B9","t":64.6,"v":0.71},{"s":"B9","t":65,"v":0.63},{"s":"B9","t":65.5,"v":0.58},{"s":"B9","t":66,"v":0.5},{"s":"B9","t":66.5,"v":0.47},{"s":"B9","t":67,"v":0.4},{"s":"B9","t":67.5,"v":0.38},{"s":"B9","t":68,"v":0.32},{"s":"B9","t":68.5,"v":0.31},{"s":"B9","t":69,"v":0.25},{"s":"B9","t":69.5,"v":0.25},{"s":"B9","t":70,"v":0.2},{"s":"B9","t":70.5,"v":0.21},{"s":"B9","t":71,"v":0.15},{"s":"B9","t":71.5,"v":0.16},{"s":"B9","t":72,"v":0.12},{"s":"B9","t":72.5,"v":0.13},{"s":"B9","t":73,"v":0.08},{"s":"B9","t":73.5,"v":0.11},{"s":"B9","t":74,"v":0.06},{"s":"B9","t":74.5,"v":0.1},{"s":"B9","t":75,"v":0.05},{"s":"B9","t":75.5,"v":0.09},{"s":"B9","t":76,"v":0.12},{"s":"B9","t":76.5,"v":0.19},{"s":"B9","t":76.8,"v":0.08},{"s":"B9","t":77.1,"v":-0.05},{"s":"B9","t":77.4,"v":-0.1},{"s":"B9","t":77.6,"v":-0.15},{"s":"B9","t":77.9,"v":0.0},{"s":"B9","t":78.2,"v":0.18},{"s":"B9","t":78.5,"v":0.23},{"s":"B9","t":78.7,"v":0.4},{"s":"B9","t":78.8,"v":0.9},{"s":"B9","t":78.9,"v":1.2},{"s":"B9","t":79.1,"v":1.12},{"s":"B9","t":79.4,"v":1.2},{"s":"B9","t":79.7,"v":1.08},{"s":"B9","t":80,"v":1.12}
]},
"vconcat":[
{"width":499,"height":383,
"layer":[
{"data":{"name":"d"},
"mark":{"type":"line","clip":true,"strokeWidth":2.2},
"encoding":{
"x":{"field":"t","type":"quantitative","scale":{"domain":[0,80],"nice":false,"zero":false},"axis":{"values":[0,10,20,30,40,50,60,70,80],"format":"~g","title":"t [s]","labelFont":"Liberation Serif","labelFontSize":21,"labelColor":"#262626","labelPadding":10,"labelFlush":false,"labelOverlap":false,"titleFont":"Liberation Serif","titleFontSize":22,"titleFontWeight":"normal","titleColor":"#262626","titlePadding":4,"ticks":false,"gridColor":"#e6e6e6","domainColor":"#555555"}},
"y":{"field":"v","type":"quantitative","scale":{"domain":[-0.2,2.5],"nice":false,"zero":false},"axis":{"values":[0,0.5,1,1.5,2,2.5],"format":"~g","title":"φw [MW/m²]","labelFont":"Liberation Serif","labelFontSize":21,"labelColor":"#262626","labelPadding":9,"labelFlush":false,"labelOverlap":false,"titleFont":"Liberation Serif","titleFontSize":22,"titleFontWeight":"normal","titleColor":"#262626","titlePadding":9,"ticks":false,"gridColor":"#e6e6e6","domainColor":"#555555"}},
"color":{"field":"s","type":"nominal","scale":{"domain":["R2","R9","A2","A9","B2","B9"],"range":["#000000","#808080","#ff0000","#22e6ee","#ff0000","#22e6ee"]},
"legend":{"title":"\u00a0\u00a0Ref\u00a0\u00a0\u00a0\u00a0\u00a0\u00a0\u00a01D\u00a0\u00a0\u00a0\u00a0\u00a0\u00a0\u00a0\u00a02D","orient":"none","legendX":282,"legendY":7,"columns":3,"symbolType":"M-2,0H2","symbolSize":529,"symbolOffset":10.5,"symbolStrokeWidth":2.5,"labelFont":"Liberation Serif","labelFontSize":19,"labelColor":"#262626","titleFont":"Liberation Serif","titleFontSize":18,"titleFontWeight":"normal","titleColor":"#262626","titlePadding":-8,"labelExpr":"datum.value=='B2'?'TC2':datum.value=='B9'?'TC9':''","fillColor":"white","strokeColor":"#8c8c8c","padding":5,"columnPadding":-13.5,"rowPadding":1,"labelOffset":19}},
"strokeDash":{"field":"s","type":"nominal","scale":{"domain":["R2","R9","A2","A9","B2","B9"],"range":[[1,0],[1,0],[8,6],[8,6],[2,2],[2,2]]},
"legend":{"title":"\u00a0\u00a0Ref\u00a0\u00a0\u00a0\u00a0\u00a0\u00a0\u00a01D\u00a0\u00a0\u00a0\u00a0\u00a0\u00a0\u00a0\u00a02D","orient":"none","legendX":282,"legendY":7,"columns":3,"symbolType":"M-2,0H2","symbolSize":529,"symbolOffset":10.5,"symbolStrokeWidth":2.5,"labelFont":"Liberation Serif","labelFontSize":19,"labelColor":"#262626","titleFont":"Liberation Serif","titleFontSize":18,"titleFontWeight":"normal","titleColor":"#262626","titlePadding":-8,"labelExpr":"datum.value=='B2'?'TC2':datum.value=='B9'?'TC9':''","fillColor":"white","strokeColor":"#8c8c8c","padding":5,"columnPadding":-13.5,"rowPadding":1,"labelOffset":19}}
}},
{"data":{"values":[{}]},
"mark":{"type":"rect","clip":false,"fillOpacity":0,"stroke":"#7030a0","strokeWidth":2.5,"strokeDash":[10,7]},
"encoding":{"x":{"datum":7.53},"x2":{"datum":17.0},"y":{"datum":-0.44},"y2":{"datum":2.514}}},
{"data":{"values":[{}]},
"mark":{"type":"rule","clip":false,"stroke":"#7030a0","strokeWidth":2.5},
"encoding":{"x":{"datum":12.2},"y":{"datum":-0.44},"y2":{"datum":-0.68}}},
{"data":{"values":[{}]},
"mark":{"type":"point","clip":false,"shape":"triangle-down","filled":true,"size":110,"color":"#7030a0","opacity":1},
"encoding":{"x":{"datum":12.2},"y":{"datum":-0.72}}}
]},
{"width":499,"height":384,
"layer":[
{"data":{"name":"d"},
"mark":{"type":"line","clip":true,"strokeWidth":2},
"encoding":{
"x":{"field":"t","type":"quantitative","scale":{"domain":[9,17],"nice":false,"zero":false},"axis":{"values":[9,10,11,12,13,14,15,16,17],"format":"~g","title":"t [s]","labelFont":"Liberation Serif","labelFontSize":21,"labelColor":"#262626","labelPadding":10,"labelFlush":false,"labelOverlap":false,"titleFont":"Liberation Serif","titleFontSize":22,"titleFontWeight":"normal","titleColor":"#262626","titlePadding":4,"ticks":false,"gridColor":"#e6e6e6","domainColor":"#555555"}},
"y":{"field":"v","type":"quantitative","scale":{"domain":[-0.2,2.5],"nice":false,"zero":false},"axis":{"values":[0,0.5,1,1.5,2,2.5],"format":"~g","title":"φw [MW/m²]","labelFont":"Liberation Serif","labelFontSize":21,"labelColor":"#262626","labelPadding":9,"labelFlush":false,"labelOverlap":false,"titleFont":"Liberation Serif","titleFontSize":22,"titleFontWeight":"normal","titleColor":"#262626","titlePadding":9,"ticks":false,"gridColor":"#e6e6e6","domainColor":"#555555"}},
"color":{"field":"s","type":"nominal","scale":{"domain":["R2","R9","A2","A9","B2","B9"],"range":["#000000","#808080","#ff0000","#22e6ee","#ff0000","#22e6ee"]},"legend":null},
"strokeDash":{"field":"s","type":"nominal","scale":{"domain":["R2","R9","A2","A9","B2","B9"],"range":[[1,0],[1,0],[8,6],[8,6],[2,2],[2,2]]},"legend":null}
}},
{"data":{"values":[{}]},
"mark":{"type":"rect","clip":false,"fillOpacity":0,"stroke":"#7030a0","strokeWidth":2.5,"strokeDash":[11,8]},
"encoding":{"x":{"datum":7.83},"x2":{"datum":17.18},"y":{"datum":-0.644},"y2":{"datum":2.634}}}
]}
]
}
